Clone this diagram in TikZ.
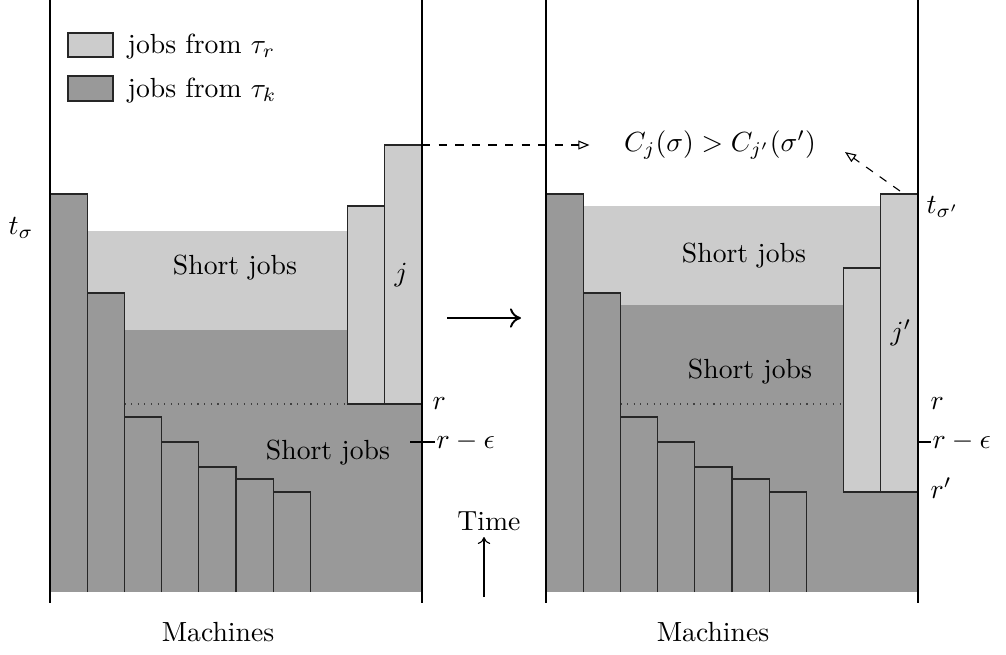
\documentclass[tikz,border=0pt]{standalone}
\usetikzlibrary{arrows.meta}
\definecolor{jobr}{gray}{0.8}
\definecolor{jobk}{gray}{0.6}
\begin{document}
\begin{tikzpicture}[x=0.3613pt,y=-0.3613pt,
  wall/.style={line width=0.8pt},
  edge/.style={draw=black!85, line width=0.4pt},
  rjob/.style={edge, fill=jobr},
  kjob/.style={edge, fill=jobk},
  lbl/.style={inner sep=0pt},
  ptr/.style={dashed, line width=0.4pt, -{Triangle[open,length=4pt,width=3.2pt]}},
  bigarrow/.style={line width=0.7pt, -{To[length=4pt,width=7pt]}},
]
\useasboundingbox (0,0) rectangle (1006,654);

% ---------- left schedule sigma ----------
\fill[jobk] (50,330) rectangle (422,592);
\fill[jobr] (87.2,231) rectangle (347.6,330);
\draw[dotted, black!75] (124.4,404) -- (347.6,404);
\foreach \i/\t in {0/194,1/293,2/417,3/442,4/467,5/479,6/492}{
  \fill[jobk] ({50+37.2*\i},592) rectangle ({50+37.2*(\i+1)},\t);
  \draw[edge] ({50+37.2*\i},592) -- ({50+37.2*\i},\t) -- ({50+37.2*(\i+1)},\t) -- ({50+37.2*(\i+1)},592);
}
\draw[rjob] (347.6,206) rectangle (384.8,404);
\draw[rjob] (384.8,145) rectangle (422,404);
\draw[wall] (50,0) -- (50,603);
\draw[wall] (422,0) -- (422,603);
\draw[line width=0.5pt] (410,442) -- (435,442);

\node (shortLa) at (235,268) {Short jobs};
\node (shortLb) at (328,453) {Short jobs};
\node[lbl] (jL) at (401,275) {$j$};
\node[lbl] (tL) at (21,228) {$t_\sigma$};
\node[lbl, anchor=west] (rL) at (432,404) {$r$};
\node[lbl, anchor=west] (reL) at (436,442) {$r-\epsilon$};
\node (machL) at (218,632) {Machines};

% legend
\draw[rjob] (68,33) rectangle (113,57);
\draw[kjob] (68,76) rectangle (113,101);
\node[lbl, anchor=base west] (legR) at (127,53) {jobs from $\tau_r$};
\node[lbl, anchor=base west] (legK) at (127,97) {jobs from $\tau_k$};

% ---------- right schedule sigma' ----------
\fill[jobk] (546,305) rectangle (918,592);
\fill[jobr] (583.2,206) rectangle (880.8,305);
\draw[dotted, black!75] (620.4,404) -- (843.6,404);
\foreach \i/\t in {0/194,1/293,2/417,3/442,4/467,5/479,6/492}{
  \fill[jobk] ({546+37.2*\i},592) rectangle ({546+37.2*(\i+1)},\t);
  \draw[edge] ({546+37.2*\i},592) -- ({546+37.2*\i},\t) -- ({546+37.2*(\i+1)},\t) -- ({546+37.2*(\i+1)},592);
}
\draw[line width=0.5pt] (906,442) -- (931,442);
\draw[rjob] (843.6,268) rectangle (880.8,492);
\draw[rjob] (880.8,194) rectangle (918,492);
\draw[wall] (546,0) -- (546,603);
\draw[wall] (918,0) -- (918,603);

\node (shortRa) at (744,256) {Short jobs};
\node (shortRb) at (750,372) {Short jobs};
\node[lbl] (jR) at (901,333) {$j'$};
\node[lbl, anchor=west] (tR) at (926,207) {$t_{\sigma'}$};
\node[lbl, anchor=west] (rR) at (930,404) {$r$};
\node[lbl, anchor=west] (reR) at (932,442) {$r-\epsilon$};
\node[lbl, anchor=west] (rpR) at (930,488) {$r'$};
\node (machR) at (713,632) {Machines};

% comparison of completion times
\node (cmp) at (720,145) {$C_j(\sigma) > C_{j'}(\sigma')$};
\coordinate (jtop) at (422,145);
\coordinate (jptop) at (900,191);
\coordinate (cmptip) at (845,152);
\draw[ptr, shorten >=9pt] (jtop) -- (cmp.west);
\draw[ptr] (jptop) -- (cmptip);

% transformation arrow
\coordinate (trA) at (447,318);
\coordinate (trB) at (521,318);
\draw[bigarrow] (trA) -- (trB);

% time axis
\node (time) at (489,521) {Time};
\coordinate (tbase) at (484,597);
\coordinate (ttip) at (484,537);
\draw[line width=0.4pt, -{To[length=2.5pt,width=4.5pt]}] (tbase) -- (ttip);
\end{tikzpicture}
\end{document}
